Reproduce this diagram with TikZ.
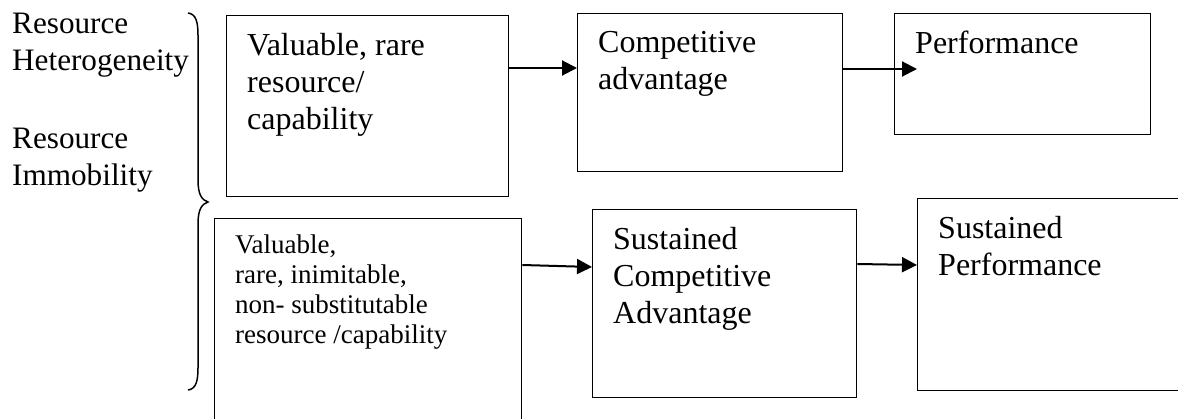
\documentclass[tikz,border=0pt]{standalone}
\usepackage{fontspec}
\setmainfont{Liberation Serif}
\usetikzlibrary{arrows.meta,calc}
\tikzset{
  box/.style={draw=black, line width=1.4pt, rectangle, inner sep=0pt, anchor=north west},
  lbl/.style={inner sep=0pt, anchor=north west, align=left, font=\fontsize{32}{37}\selectfont},
  side/.style={inner sep=0pt, anchor=north west, align=left, font=\fontsize{31.2}{37}\selectfont},
  small/.style={inner sep=0pt, anchor=north west, align=left, font=\fontsize{27}{30}\selectfont},
  arr/.style={line width=2pt, -{Triangle[length=15pt,width=15pt]}},
  brace/.style={line width=1.5pt}
}
\begin{document}
\begin{tikzpicture}[x=1pt,y=-1pt]
\useasboundingbox (0,0) rectangle (1178,419);
\clip (0,0) rectangle (1178,419);
% left labels
\node[side] (het) at (12,7) {\strut Resource\\Heterogeneity};
\node[side] (imm) at (12,122) {\strut Resource\\Immobility};
% brace
\draw[brace] (188,13) .. controls (196,14) and (198,22) .. (198,35) -- (198,180)
  .. controls (198,195) and (202,200) .. (208,202)
  .. controls (202,204) and (198,209) .. (198,224) -- (198,368)
  .. controls (198,381) and (196,389) .. (188,390);
% boxes
\node[box, minimum width=282pt, minimum height=181pt] (b1) at (226,15) {};
\node[box, minimum width=265pt, minimum height=158pt] (b2) at (577,13) {};
\node[box, minimum width=256pt, minimum height=121pt] (b3) at (894,13) {};
\node[box, minimum width=307pt, minimum height=230pt] (b4) at (214,218) {};
\node[box, minimum width=264pt, minimum height=188pt] (b5) at (592,209) {};
\node[box, minimum width=290pt, minimum height=192pt] (b6) at (917,198) {};
% texts
\node[lbl] (t1) at ($(b1.north west)+(21,14)$) {\strut Valuable, rare\\resource/\\capability};
\node[lbl] (t2) at ($(b2.north west)+(21,13)$) {\strut Competitive\\advantage};
\node[lbl] (t3) at ($(b3.north west)+(21,14)$) {\strut Performance};
\node[small] (t4) at ($(b4.north west)+(21,14)$) {\strut Valuable,\\rare, inimitable,\\non- substitutable\\resource /capability};
\node[lbl] (t5) at ($(b5.north west)+(21,14)$) {\strut Sustained\\Competitive\\Advantage};
\node[lbl] (t6) at ($(b6.north west)+(21,14)$) {\strut Sustained\\Performance};
% arrows
\draw[arr] (b1.east |- {0,68}) -- (b2.west |- {0,68});
\draw[arr, shorten >=-23pt] (b2.east |- {0,69}) -- (b3.west |- {0,69});
\draw[arr] (b4.east |- {0,265}) -- (b5.west |- {0,267});
\draw[arr] (b5.east |- {0,264}) -- (b6.west |- {0,265});
\end{tikzpicture}
\end{document}
